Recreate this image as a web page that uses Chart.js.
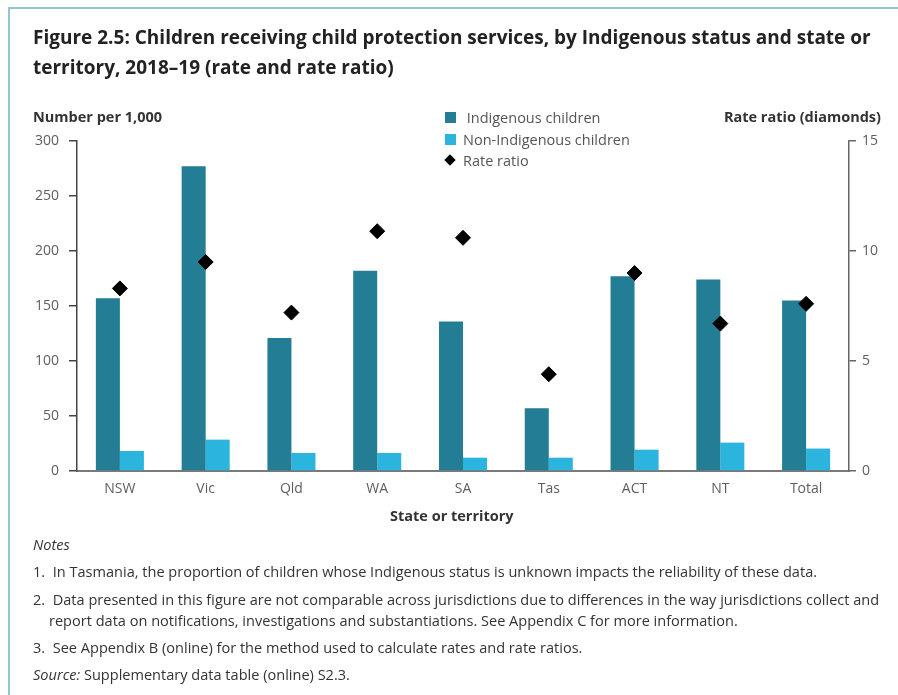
<!DOCTYPE html>
<html>
<head>
<meta charset="utf-8">
<script src="https://cdn.jsdelivr.net/npm/chart.js@4.4.1/dist/chart.umd.min.js"></script>
<style>
  html, body { margin: 0; padding: 0; background: #fff; }
  body { width: 898px; height: 695px; position: relative; overflow: hidden; font-family: "Open Sans", sans-serif; }
  #frame { position: absolute; left: 8px; top: 7px; width: 900px; height: 700px; border-left: 2px solid #93c6d2; border-top: 2px solid #93c6d2; }
  #chartWrap { position: absolute; left: 0; top: 0; width: 898px; height: 695px; }
  .cond { position: absolute; white-space: nowrap; transform-origin: 0 50%; }
  .title { left: 33px; font-weight: 700; font-size: 20px; color: #222; line-height: 30px; }
  .axisTitle { position: absolute; font-weight: 700; font-size: 14.5px; color: #333; white-space: nowrap; }
  #legend { position: absolute; left: 444px; top: 107px; font-size: 14.5px; color: #555; }
  #legend div { height: 21.5px; line-height: 21.5px; position: relative; padding-left: 19px; }
  #legend .sw { position: absolute; left: 1px; top: 5px; width: 11px; height: 11px; }
  #legend .dia { position: absolute; left: 2px; top: 6px; width: 8px; height: 8px; background: #000; transform: rotate(45deg); }
  .note { font-size: 15px; color: #333; }
</style>
</head>
<body>
<div id="frame"></div>
<div id="chartWrap"><canvas id="chart" width="898" height="695"></canvas></div>

<div class="cond title" data-sq="0.95" style="top:22px">Figure 2.5: Children receiving child protection services, by Indigenous status and state or</div>
<div class="cond title" data-sq="0.95" style="top:52px">territory, 2018–19 (rate and rate ratio)</div>

<div class="axisTitle" style="left:33px;top:107px">Number per 1,000</div>
<div class="axisTitle" style="right:17px;top:107px">Rate ratio (diamonds)</div>
<div class="axisTitle" style="left:390px;top:506px">State or territory</div>

<div id="legend">
  <div><span class="sw" style="background:#237d94"></span>&nbsp;Indigenous children</div>
  <div><span class="sw" style="background:#2bb4de"></span>Non-Indigenous children</div>
  <div><span class="dia"></span>Rate ratio</div>
</div>

<div class="cond note" data-sq="0.97" style="left:33px;top:534px;font-style:italic">Notes</div>
<div class="cond note" data-sq="0.97" style="left:33px;top:561px">1.&nbsp; In Tasmania, the proportion of children whose Indigenous status is unknown impacts the reliability of these data.</div>
<div class="cond note" data-sq="0.97" style="left:33px;top:589px">2.&nbsp; Data presented in this figure are not comparable across jurisdictions due to differences in the way jurisdictions collect and</div>
<div class="cond note" data-sq="0.97" style="left:49px;top:610px">report data on notifications, investigations and substantiations. See Appendix C for more information.</div>
<div class="cond note" data-sq="0.97" style="left:33px;top:637px">3.&nbsp; See Appendix B (online) for the method used to calculate rates and rate ratios.</div>
<div class="cond note" data-sq="0.97" style="left:33px;top:664px"><i>Source:</i> Supplementary data table (online) S2.3.</div>

<script>
const states = ["NSW", "Vic", "Qld", "WA", "SA", "Tas", "ACT", "NT", "Total"];
const indigenous = [157, 277, 121, 182, 136, 57, 177, 174, 155];
const nonIndigenous = [18.2, 28.5, 16.4, 16.4, 12.1, 12.1, 19.4, 25.8, 20.4];
const rateRatio = [8.3, 9.5, 7.2, 10.9, 10.6, 4.4, 9.0, 6.7, 7.6];
const leftTicks = [0, 50, 100, 150, 200, 250, 300];
const rightTicks = [0, 5, 10, 15];

// squeeze the text a bit, the original uses a condensed face
document.querySelectorAll(".cond").forEach(el => {
    el.style.transform = `scaleX(${el.dataset.sq})`;
});

const tickFont = { family: "Open Sans", size: 14 };
const tickColor = "#5e5e5e";

const ctx = document.getElementById("chart").getContext("2d");
new Chart(ctx, {
    data: {
        labels: states,
        datasets: [
            {
                type: "line",
                label: "Rate ratio",
                data: rateRatio,
                yAxisID: "yRight",
                showLine: false,
                pointStyle: "rectRot",
                pointRadius: 7.5,
                pointBackgroundColor: "#000",
                pointBorderColor: "#000",
                order: 0
            },
            {
                type: "bar",
                label: "Indigenous children",
                data: indigenous,
                yAxisID: "y",
                backgroundColor: "#237d94",
                categoryPercentage: 0.56,
                barPercentage: 1.0,
                order: 1
            },
            {
                type: "bar",
                label: "Non-Indigenous children",
                data: nonIndigenous,
                yAxisID: "y",
                backgroundColor: "#2bb4de",
                categoryPercentage: 0.56,
                barPercentage: 1.0,
                order: 1
            }
        ]
    },
    options: {
        responsive: false,
        animation: false,
        layout: { padding: { top: 141, left: 0, right: 0, bottom: 164 } },
        plugins: { legend: { display: false }, tooltip: { enabled: false } },
        scales: {
            x: {
                offset: true,
                grid: { drawOnChartArea: false, drawTicks: false },
                border: { color: "#7a7a7a", width: 2 },
                ticks: { font: tickFont, color: tickColor, padding: 10 },
                afterFit: s => { s.height = 60; }
            },
            y: {
                position: "left",
                min: 0,
                max: 300,
                afterBuildTicks: s => { s.ticks = leftTicks.map(v => ({ value: v })); },
                grid: { drawOnChartArea: false, drawTicks: true, tickLength: 8, color: "#444", lineWidth: 1.5 },
                border: { color: "#444", width: 1.5 },
                ticks: { font: tickFont, color: tickColor, padding: 10 },
                afterFit: s => { s.width = 77; }
            },
            yRight: {
                position: "right",
                min: 0,
                max: 15,
                afterBuildTicks: s => { s.ticks = rightTicks.map(v => ({ value: v })); },
                grid: { drawOnChartArea: false, drawTicks: true, tickLength: 7, color: "#666", lineWidth: 1.5 },
                border: { color: "#666", width: 1.5 },
                ticks: { font: tickFont, color: tickColor, padding: 6 },
                afterFit: s => { s.width = 49; }
            }
        }
    }
});
</script>
</body>
</html>
